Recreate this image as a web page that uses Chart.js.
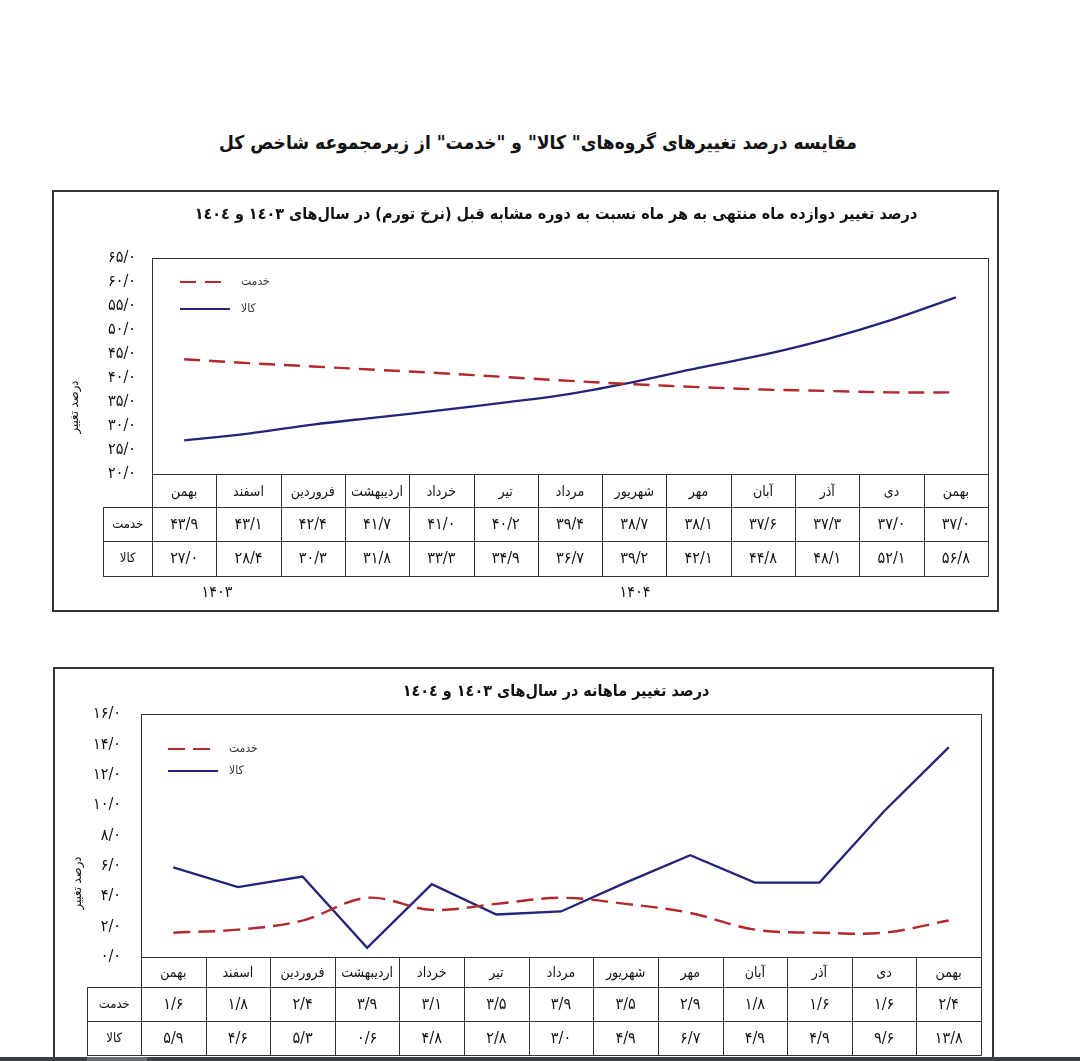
<!DOCTYPE html>
<html lang="fa">
<head>
<meta charset="utf-8">
<script src="https://cdn.jsdelivr.net/npm/chart.js@4.4.1/dist/chart.umd.min.js"></script>
<style>
  body { margin: 0; width: 1080px; height: 1061px; background: #fff; position: relative; overflow: hidden;
         font-family: 'DejaVu Sans Condensed', 'DejaVu Sans', sans-serif; }
  #mainTitle { position: absolute; top: 131px; left: 0; width: 1076px; text-align: center; direction: rtl;
               font-weight: bold; font-size: 19px; color: #111; }
  .frame { position: absolute; border: 2px solid #333; box-sizing: border-box; }
  #box1 { left: 52px; top: 190px; width: 947px; height: 422px; }
  #box2 { left: 53px; top: 667px; width: 941px; height: 400px; }
  #bar { position: absolute; left: 0; top: 1057px; width: 1080px; height: 4px; background: #3b4045; }
  #bar span { position: absolute; left: 87px; top: 0; width: 60px; height: 4px; background: #6b6f73; }
</style>
</head>
<body>
<div id="mainTitle">مقایسه درصد تغییرهای گروه‌های" کالا" و "خدمت" از زیرمجموعه شاخص کل</div>
<div class="frame" id="box1"><canvas id="annual-chart" width="943" height="418"></canvas></div>
<div class="frame" id="box2"><canvas id="monthly-chart" width="937" height="396"></canvas></div>
<div id="bar"><span></span></div>
<script>
// months from bahman 1403 to bahman 1404
const months = ['بهمن', 'اسفند', 'فروردین', 'اردیبهشت', 'خرداد', 'تیر', 'مرداد', 'شهریور', 'مهر', 'آبان', 'آذر', 'دی', 'بهمن'];
const years = ['۱۴۰۳', '۱۴۰۴'];
const yearSpans = [2, 11];

// 12-month change (inflation rate)
const annualServices = [43.9, 43.1, 42.4, 41.7, 41.0, 40.2, 39.4, 38.7, 38.1, 37.6, 37.3, 37.0, 37.0];
const annualGoods = [27.0, 28.4, 30.3, 31.8, 33.3, 34.9, 36.7, 39.2, 42.1, 44.8, 48.1, 52.1, 56.8];

// monthly change
const monthlyServices = [1.6, 1.8, 2.4, 3.9, 3.1, 3.5, 3.9, 3.5, 2.9, 1.8, 1.6, 1.6, 2.4];
const monthlyGoods = [5.9, 4.6, 5.3, 0.6, 4.8, 2.8, 3.0, 4.9, 6.7, 4.9, 4.9, 9.6, 13.8];

// y axis ticks: min, max, step
const annualTicks = [20, 65, 5];
const monthlyTicks = [0, 16, 2];

const RED = '#b3282b';
const BLUE = '#23237a';
const FONT = "'DejaVu Sans Condensed', 'DejaVu Sans', sans-serif";

Chart.defaults.font.family = FONT;
Chart.defaults.color = '#111';

const faDigits = '۰۱۲۳۴۵۶۷۸۹';
function fa(v) {
  return Number(v).toFixed(1).replace('.', '/').replace(/\d/g, d => faDigits[d]);
}

// draws the plot box, the data table, years, axis title, legend and title
const tablePlugin = {
  id: 'dataTable',
  afterDraw(chart, args, o) {
    const ctx = chart.ctx;
    const a = chart.chartArea;
    const x = chart.scales.x;
    const n = chart.data.labels.length;
    const w = x.getPixelForValue(1) - x.getPixelForValue(0);
    const edge = i => Math.round(x.getPixelForValue(0) - w / 2 + i * w) + 0.5;
    const h = o.rowHeights;
    const y0 = Math.round(a.bottom) + 0.5;
    const y1 = y0 + h[0], y2 = y1 + h[1], y3 = y2 + h[2];
    const L = Math.round(a.left) + 0.5, R = edge(n);

    ctx.save();
    ctx.strokeStyle = '#333';
    ctx.lineWidth = 1;
    ctx.setLineDash([]);
    ctx.strokeRect(L, Math.round(a.top) + 0.5, R - L, y0 - Math.round(a.top) - 0.5);

    ctx.beginPath();
    for (let i = 0; i <= n; i++) {
      ctx.moveTo(edge(i), y0);
      ctx.lineTo(edge(i), y3);
    }
    ctx.moveTo(o.labelLeft + 0.5, y1); ctx.lineTo(o.labelLeft + 0.5, y3);
    [y1, y2, y3].forEach(yy => { ctx.moveTo(o.labelLeft, yy); ctx.lineTo(R, yy); });
    ctx.stroke();

    ctx.direction = 'rtl';
    ctx.textAlign = 'center';
    ctx.textBaseline = 'middle';
    ctx.fillStyle = '#111';

    ctx.font = '14px ' + FONT;
    chart.data.labels.forEach((m, i) => ctx.fillText(m, x.getPixelForValue(i), (y0 + y1) / 2 + 1));

    const rowMid = [(y1 + y2) / 2, (y2 + y3) / 2];
    chart.data.datasets.forEach((ds, r) => {
      ctx.font = '13px ' + FONT;
      ctx.fillText(ds.label, (o.labelLeft + L) / 2, rowMid[r]);
      ctx.font = '16px ' + FONT;
      ds.data.forEach((v, i) => ctx.fillText(fa(v), x.getPixelForValue(i), rowMid[r]));
    });

    if (o.years) {
      ctx.font = '16px ' + FONT;
      let s = 0;
      o.years.forEach((yr, k) => {
        const e = s + o.yearSpans[k];
        ctx.fillText(yr, (edge(s) + edge(e)) / 2, y3 + o.yearGap);
        s = e;
      });
    }

    // y axis title
    ctx.save();
    ctx.translate(o.yTitle[0], o.yTitle[1]);
    ctx.rotate(-Math.PI / 2);
    ctx.font = '13px ' + FONT;
    ctx.fillText('درصد تغییر', 0, 0);
    ctx.restore();

    // chart title
    ctx.font = 'bold 16px ' + FONT;
    ctx.fillText(o.title, o.titlePos[0], o.titlePos[1]);

    // legend inside plot
    chart.data.datasets.forEach((ds, k) => {
      const ly = a.top + o.legend[1] + k * o.legend[2];
      const lx = a.left + o.legend[0];
      ctx.strokeStyle = ds.borderColor;
      ctx.lineWidth = 2.2;
      ctx.setLineDash(ds.borderDash || []);
      ctx.beginPath();
      ctx.moveTo(lx, ly);
      ctx.lineTo(lx + 50, ly);
      ctx.stroke();
      ctx.setLineDash([]);
      ctx.font = '12px ' + FONT;
      ctx.fillStyle = '#333';
      ctx.textAlign = 'left';
      ctx.fillText(ds.label, lx + 61, ly);
    });
    ctx.restore();
  }
};

function makeChart(id, services, goods, ticks, opt) {
  const ctx = document.getElementById(id).getContext('2d');
  return new Chart(ctx, {
    type: 'line',
    data: {
      labels: months,
      datasets: [{
        label: 'خدمت',
        data: services,
        borderColor: RED,
        borderWidth: 2.4,
        borderDash: opt.dash,
        tension: 0.35,
        pointRadius: 0,
        fill: false
      },
      {
        label: 'کالا',
        data: goods,
        borderColor: BLUE,
        borderWidth: 2.3,
        tension: opt.goodsTension,
        pointRadius: 0,
        fill: false
      }]
    },
    options: {
      responsive: false,
      animation: false,
      layout: { padding: opt.padding },
      scales: {
        x: { display: false, offset: true },
        y: {
          min: ticks[0],
          max: ticks[1],
          ticks: { stepSize: ticks[2], callback: v => fa(v), font: { size: 16 }, color: '#111', padding: opt.tickPad },
          grid: { display: false, drawTicks: false },
          border: { display: false },
          afterFit(scale) { scale.width = opt.axisWidth; }
        }
      },
      plugins: {
        legend: { display: false },
        tooltip: { enabled: false },
        dataTable: opt.table
      }
    },
    plugins: [tablePlugin]
  });
}

makeChart('annual-chart', annualServices, annualGoods, annualTicks, {
  dash: [16, 9],
  goodsTension: 0.35,
  padding: { top: 66, right: 9, bottom: 136, left: 0 },
  tickPad: 16,
  axisWidth: 98,
  table: {
    rowHeights: [33, 34, 35],
    labelLeft: 49,
    years: years,
    yearSpans: yearSpans,
    yearGap: 16,
    yTitle: [21, 215],
    title: 'درصد تغییر دوازده ماه منتهی به هر ماه نسبت به دوره مشابه قبل (نرخ تورم) در سال‌های ١٤٠٣ و ١٤٠٤',
    titlePos: [502, 23],
    legend: [28, 24, 27]
  }
});

makeChart('monthly-chart', monthlyServices, monthlyGoods, monthlyTicks, {
  dash: [17, 8],
  goodsTension: 0,
  padding: { top: 45, right: 11, bottom: 108, left: 0 },
  tickPad: 20,
  axisWidth: 86,
  table: {
    rowHeights: [30, 34, 34],
    labelLeft: 32,
    years: null,
    yTitle: [23, 214],
    title: 'درصد تغییر ماهانه در سال‌های ١٤٠٣ و ١٤٠٤',
    titlePos: [501, 23],
    legend: [27, 35, 22]
  }
});
</script>
</body>
</html>
